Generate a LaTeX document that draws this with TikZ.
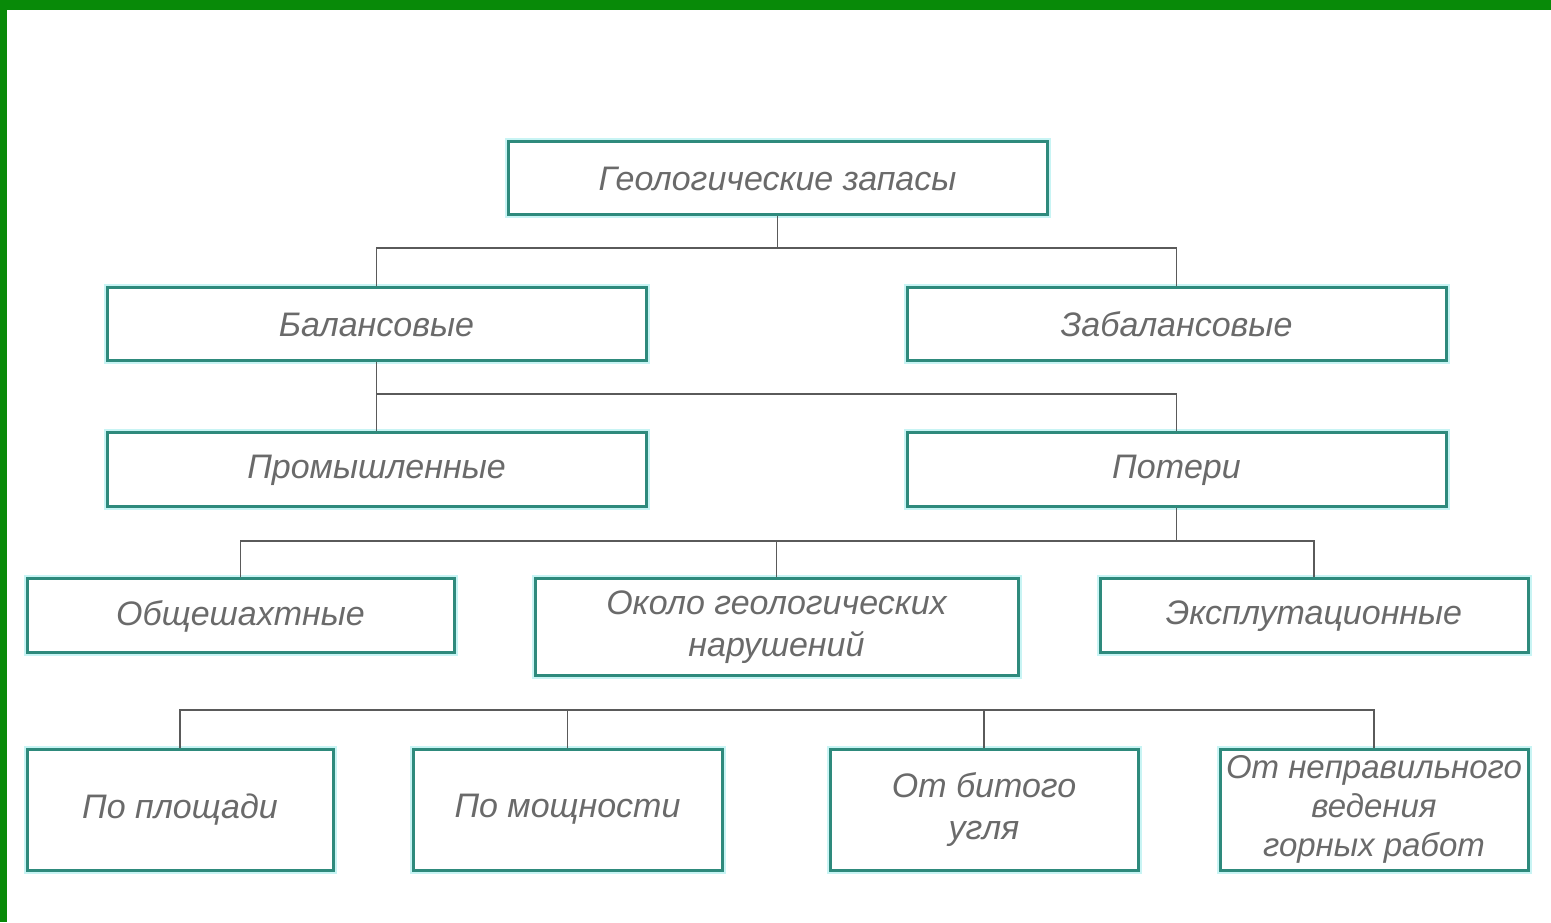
\documentclass[tikz,border=0pt]{standalone}
\usepackage{fontspec}
\setmainfont{Liberation Sans}
\definecolor{boxteal}{HTML}{2E8A7C}
\definecolor{glow}{HTML}{C8F4F4}
\definecolor{txtgray}{HTML}{6A6A6A}
\definecolor{linegray}{HTML}{5A5A5A}
\definecolor{framegreen}{HTML}{088A08}
\tikzset{
  box/.style={draw=boxteal, line width=3pt, fill=white, inner sep=0pt, align=center,
     text=txtgray, font=\fontsize{34}{42}\selectfont\itshape,
     preaction={draw=glow, line width=7pt}},
  conn/.style={draw=linegray, line width=1.6pt},
}
\begin{document}
\begin{tikzpicture}[x=1pt,y=1pt]
\useasboundingbox (0,0) rectangle (1551,922);
\fill[white] (0,0) rectangle (1551,922);
\fill[framegreen] (0,912) rectangle (1551,922);
\fill[framegreen] (0,0) rectangle (7,922);

\node[box, minimum width=539pt, minimum height=73pt] (top) at (777.5,743.5) {Геологические запасы};
\node[box, minimum width=539pt, minimum height=73pt] (bal) at (376.5,597.5) {Балансовые};
\node[box, minimum width=539pt, minimum height=73pt] (zab) at (1176.5,597.5) {Забалансовые};
\node[box, minimum width=539pt, minimum height=74pt] (prom) at (376.5,452) {Промышленные};
\node[box, minimum width=539pt, minimum height=74pt] (pot) at (1176.5,452) {Потери};
\node[box, minimum width=427pt, minimum height=74pt] (obs) at (240.5,306) {Общешахтные};
\node[box, minimum width=483pt, minimum height=97pt] (okolo) at (776.5,294.5) {Около геологических\\нарушений};
\node[box, minimum width=428pt, minimum height=74pt] (eksp) at (1314,306) {Эксплутационные};
\node[box, minimum width=306pt, minimum height=121pt] (pl) at (180,112.5) {По площади};
\node[box, minimum width=309pt, minimum height=121pt] (mo) at (567.5,112.5) {По мощности};
\node[box, minimum width=308pt, minimum height=121pt] (bit) at (984,112.5) {От битого\\угля};
\node[box, minimum width=308pt, minimum height=121pt, font=\fontsize{33}{39}\selectfont\itshape] (nep) at (1374,112.5) {От неправильного\\ведения\\горных работ};

\coordinate (b1) at (0,674);
\coordinate (b2) at (0,528);
\coordinate (b3) at (0,381);
\coordinate (b4) at (0,212);

% level 1
\draw[conn] (top.south) -- (top.south |- b1);
\draw[conn] (bal.north) -- (bal.north |- b1) -- (zab.north |- b1) -- (zab.north);
% level 2
\draw[conn] (bal.south) -- (prom.north);
\draw[conn] (bal.south |- b2) -- (pot.north |- b2) -- (pot.north);
% level 3
\draw[conn] (pot.south) -- (pot.south |- b3);
\draw[conn] (obs.north) -- (obs.north |- b3) -- (eksp.north |- b3) -- (eksp.north);
\draw[conn] (okolo.north |- b3) -- (okolo.north);
% level 4
\draw[conn] (pl.north) -- (pl.north |- b4) -- (nep.north |- b4) -- (nep.north);
\draw[conn] (mo.north |- b4) -- (mo.north);
\draw[conn] (bit.north |- b4) -- (bit.north);
\end{tikzpicture}
\end{document}
